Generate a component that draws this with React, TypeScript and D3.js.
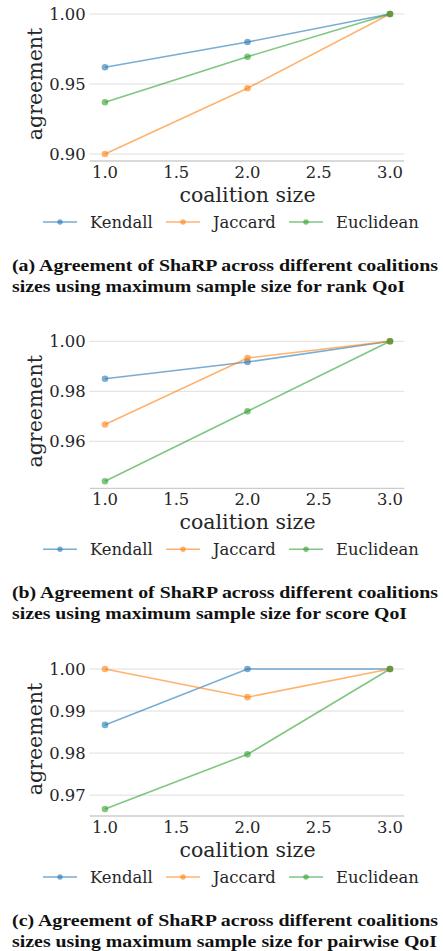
import React from "react";
import * as d3 from "d3";

const coalitionSizes = [1, 2, 3];
const seriesNames = ["Kendall", "Jaccard", "Euclidean"];

const rankKendall = [0.962, 0.98, 1.0];
const rankJaccard = [0.9, 0.947, 1.0];
const rankEuclidean = [0.937, 0.9695, 1.0];
const rankTicks = [0.9, 0.95, 1.0];

const scoreKendall = [0.985, 0.9917, 1.0];
const scoreJaccard = [0.9667, 0.9933, 1.0];
const scoreEuclidean = [0.944, 0.972, 1.0];
const scoreTicks = [0.96, 0.98, 1.0];

const pairKendall = [0.9867, 1.0, 1.0];
const pairJaccard = [1.0, 0.9933, 1.0];
const pairEuclidean = [0.9667, 0.9797, 1.0];
const pairTicks = [0.97, 0.98, 0.99, 1.0];

const xTicks = [1.0, 1.5, 2.0, 2.5, 3.0];

const captionsLine1 = [
  "(a) Agreement of ShaRP across different coalitions",
  "(b) Agreement of ShaRP across different coalitions",
  "(c) Agreement of ShaRP across different coalitions",
];
const captionsLine2 = [
  "sizes using maximum sample size for rank QoI",
  "sizes using maximum sample size for score QoI",
  "sizes using maximum sample size for pairwise QoI",
];

const COLORS = ["#1f77b4", "#ff7f0e", "#2ca02c"];
const TEXT = "#262626";
const GRID = "#dedede";
const SERIF = "'DejaVu Serif', serif";
const CAP_FONT = "'Liberation Serif', 'DejaVu Serif', serif";

const panels = [
  { tops: 7, series: [rankKendall, rankJaccard, rankEuclidean], ticks: rankTicks, l2w: 393 },
  { tops: 334.3, series: [scoreKendall, scoreJaccard, scoreEuclidean], ticks: scoreTicks, l2w: 395 },
  { tops: 662, series: [pairKendall, pairJaccard, pairEuclidean], ticks: pairTicks, l2w: 425 },
];

const PLOT_H = 154;
const LEFT = 90.75;
const RIGHT = 404.25;

function Panel({ p, idx }: { p: any; idx: number }) {
  const all = p.series.flat();
  const mn = d3.min(all) as number;
  const mx = d3.max(all) as number;
  const r = mx - mn;
  const y = d3.scaleLinear().domain([mn - 0.05 * r, mx + 0.05 * r]).range([p.tops + PLOT_H, p.tops]);
  const x = d3.scaleLinear().domain([0.9, 3.1]).range([LEFT, RIGHT]);
  const line = d3
    .line<number>()
    .x((_, i) => x(coalitionSizes[i]))
    .y((d) => y(d));
  const T = p.tops;
  const legendX = [43, 166, 289];
  return (
    <g>
      {p.ticks.map((t: number) => (
        <g key={t}>
          <line x1={LEFT - 1.5} x2={RIGHT} y1={y(t)} y2={y(t)} stroke={GRID} strokeWidth={1} />
          <text x={85.7} y={y(t)} dy="0.36em" textAnchor="end" fontFamily={SERIF} fontSize={16.4} fill={TEXT}>
            {t.toFixed(2)}
          </text>
        </g>
      ))}
      <line x1={LEFT - 1} x2={RIGHT} y1={T + PLOT_H} y2={T + PLOT_H} stroke="#cccccc" strokeWidth={1.3} />
      {xTicks.map((t) => (
        <text key={t} x={x(t)} y={T + 165} dy="0.36em" textAnchor="middle" fontFamily={SERIF} fontSize={16.4} fill={TEXT}>
          {t.toFixed(1)}
        </text>
      ))}
      <text
        x={(LEFT + RIGHT) / 2}
        y={T + 187.5}
        dy="0.36em"
        textAnchor="middle"
        fontFamily={SERIF}
        fontSize={20.5}
        fill={TEXT}
      >
        coalition size
      </text>
      <text
        transform={`translate(35,${T + PLOT_H / 2}) rotate(-90)`}
        dy="0.36em"
        textAnchor="middle"
        fontFamily={SERIF}
        fontSize={20.5}
        fill={TEXT}
      >
        agreement
      </text>
      {p.series.map((s: number[], si: number) => (
        <g key={si} opacity={0.6}>
          <path d={line(s) as string} fill="none" stroke={COLORS[si]} strokeWidth={1.6} />
        </g>
      ))}
      {p.series.map((s: number[], si: number) => (
        <g key={"m" + si}>
          {s.map((v, i) => (
            <circle key={i} cx={x(coalitionSizes[i])} cy={y(v)} r={3.3} fill={COLORS[si]} opacity={0.6} />
          ))}
        </g>
      ))}
      {seriesNames.map((n, i) => (
        <g key={n}>
          <line
            x1={legendX[i]}
            x2={legendX[i] + 34}
            y1={T + 215}
            y2={T + 215}
            stroke={COLORS[i]}
            strokeWidth={1.6}
            opacity={0.6}
          />
          <circle cx={legendX[i] + 17} cy={T + 215} r={2.7} fill={COLORS[i]} opacity={0.6} />
          <text x={legendX[i] + 47} y={T + 215} dy="0.36em" fontFamily={SERIF} fontSize={16.4} fill={TEXT}>
            {n}
          </text>
        </g>
      ))}
      <text
        x={12}
        y={T + 264}
        fontFamily={CAP_FONT}
        fontWeight="bold"
        fontSize={17}
        fill="#111"
        textLength={426}
        lengthAdjust="spacingAndGlyphs"
      >
        {captionsLine1[idx]}
      </text>
      <text
        x={12}
        y={T + 285}
        fontFamily={CAP_FONT}
        fontWeight="bold"
        fontSize={17}
        fill="#111"
        textLength={p.l2w}
        lengthAdjust="spacingAndGlyphs"
      >
        {captionsLine2[idx]}
      </text>
    </g>
  );
}

export default function App() {
  return (
    <svg
      width={443}
      height={951}
      style={{ position: "absolute", left: 0, top: 0, background: "#fff" }}
    >
      <rect width={443} height={951} fill="#fff" />
      {panels.map((p, i) => (
        <Panel key={i} p={p} idx={i} />
      ))}
    </svg>
  );
}
